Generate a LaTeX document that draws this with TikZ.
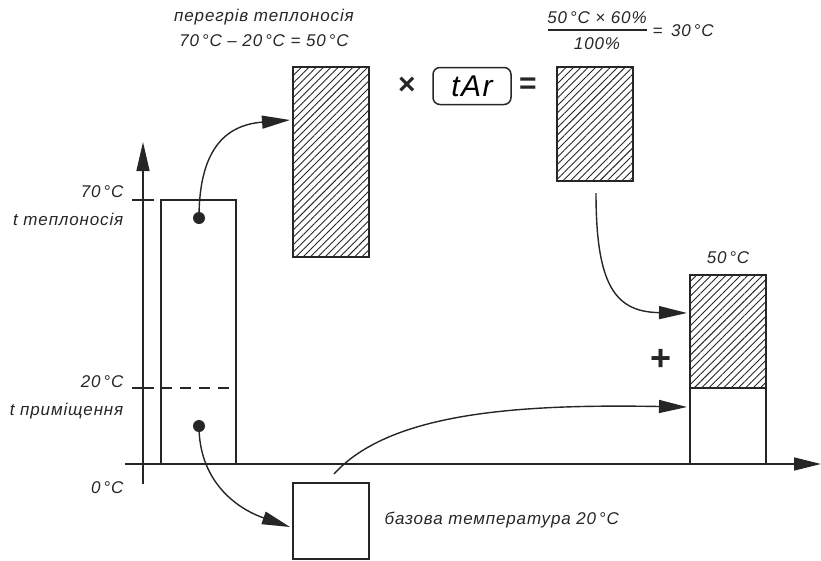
\documentclass[tikz,border=0pt]{standalone}
\usepackage{fontspec}
\setmainfont{Liberation Sans}
\newfontfamily\lblfont{Liberation Sans}[LetterSpace=5]
\usetikzlibrary{arrows.meta,patterns.meta}
\begin{document}
\begin{tikzpicture}[x=1pt,y=-1pt,
  line width=1.4pt, draw={black!85},
  lbl/.style={font=\lblfont\fontsize{17}{19}\selectfont\itshape, inner sep=0pt, text=black!85},
  box/.style={draw, line width=1.5pt},
  hatch/.style={pattern={Lines[angle=45,distance=5.2pt,line width=0.9pt]}, pattern color=black!85},
  arr/.style={-{Triangle[length=28pt,width=13pt]}, line width=1.4pt},
  dot/.style={circle, fill=black!85, inner sep=0pt, minimum size=12pt},
  op/.style={font=\fontsize{30}{30}\selectfont\bfseries, inner sep=0pt, text=black!85}
]
\useasboundingbox (0,0) rectangle (821,560);

% axes
\coordinate (ya0) at (143,484);
\coordinate (ya1) at (143,142);
\coordinate (xa0) at (125,464);
\coordinate (xa1) at (821,464);
\draw[-{Triangle[length=29pt,width=13pt]}] (ya0) -- (ya1);
\draw[-{Triangle[length=27pt,width=13pt]}] (xa0) -- (xa1);
% ticks
\coordinate (t70a) at (132,200); \coordinate (t70b) at (154,200);
\coordinate (t20a) at (132,388); \coordinate (t20b) at (154,388);
\draw (t70a) -- (t70b);
\draw (t20a) -- (t20b);

% left axis labels
\node[lbl, anchor=east] (l70) at (124,192) {70\,°C};
\node[lbl, anchor=east] (lt1) at (124,219) {t теплоносія};
\node[lbl, anchor=east] (l20) at (124,382) {20\,°C};
\node[lbl, anchor=east] (lt2) at (124,411) {t приміщення};
\node[lbl, anchor=east] (l0) at (124,488) {0\,°C};

% left box
\draw[box] (161,200) rectangle (236,464);
\coordinate (dsa) at (161,388); \coordinate (dsb) at (236,388);
\draw[line width=1.6pt, dash pattern=on 11pt off 8pt] (dsa) -- (dsb);
\node[dot] (d1) at (199,218) {};
\node[dot] (d2) at (199,426) {};

% hatched box 1
\node[box, hatch, minimum width=76pt, minimum height=190pt, inner sep=0pt] (h1) at (331,162) {};
% top text
\node[lbl] (t1) at (264,17) {перегрів теплоносія};
\node[lbl] (t2) at (264,41) {70\,°C – 20\,°C = 50\,°C};

% x tAr =
\node[op] (times) at (407,86) {×};
\node[draw, line width=1.5pt, rounded corners=7pt, minimum width=78pt, minimum height=37pt, inner sep=0pt,
      font=\lblfont\fontsize{30}{30}\selectfont\itshape] (tar) at (472,86) {tAr};
\node[op] (eq) at (528,86) {=};

% hatched box 2
\node[box, hatch, minimum width=76pt, minimum height=114pt, inner sep=0pt] (h2) at (595,124) {};

% fraction
\node[lbl] (num) at (597,18) {50\,°C × 60\%};
\coordinate (fla) at (548,30); \coordinate (flb) at (647,30);
\draw[line width=1.1pt] (fla) -- (flb);
\node[lbl] (den) at (597,44) {100\%};
\node[lbl, anchor=west] (res) at (652,31) {= \,30\,°C};

% right box
\draw[box, hatch] (690,275) rectangle (766,388);
\draw[box] (690,388) rectangle (766,464);
\node[lbl] (l50) at (728,258) {50\,°C};
\node[font=\fontsize{36}{36}\selectfont\bfseries, inner sep=0pt, text=black!85] (plus) at (661,360) {+};

% base box
\node[box, minimum width=76pt, minimum height=76pt, inner sep=0pt] (base) at (331,521) {};
\node[lbl, anchor=west] (btxt) at (384,520) {базова температура 20\,°C};

% arrows
\coordinate (a1e) at (290,120);
\coordinate (a2e) at (290,527);
\coordinate (a3s) at (596,193);
\coordinate (a3e) at (687,313);
\coordinate (a4s) at (334,474);
\coordinate (a4e) at (687,407);
\draw[arr] (d1.center) .. controls (199,150) and (225,125) .. (a1e);
\draw[arr] (d2.center) .. controls (199,480) and (235,508) .. (a2e);
\draw[arr] (a3s) .. controls (596,285) and (615,312) .. (a3e);
\draw[arr] (a4s) .. controls (390,412) and (520,404) .. (a4e);
\end{tikzpicture}
\end{document}
